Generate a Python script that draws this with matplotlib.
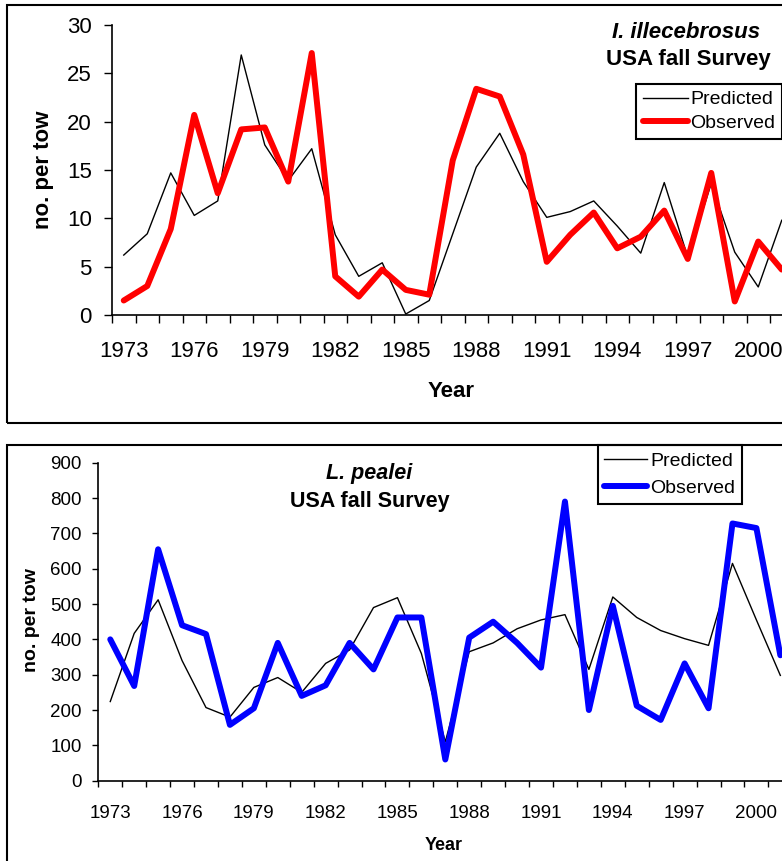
import numpy as np
import matplotlib
matplotlib.use("Agg")
import matplotlib.pyplot as plt
from matplotlib.patches import Rectangle
from matplotlib.ticker import FixedLocator, NullFormatter, FixedFormatter

plt.rcParams['font.family'] = ['Liberation Sans', 'DejaVu Sans']

years = list(range(1973, 2002))

# Illex illecebrosus, USA fall survey (no. per tow)
illex_pred = [6.2, 8.4, 14.7, 10.3, 11.8, 26.9, 17.6, 13.9, 17.2, 8.3,
              4.0, 5.4, 0.1, 1.5, 8.4, 15.3, 18.8, 13.8, 10.1, 10.7,
              11.8, 9.2, 6.4, 13.7, 6.0, 13.6, 6.5, 2.9, 9.8]
illex_obs = [1.5, 3.0, 8.9, 20.7, 12.6, 19.2, 19.4, 13.8, 27.1, 4.0,
             1.9, 4.7, 2.6, 2.1, 16.0, 23.4, 22.6, 16.6, 5.5, 8.3,
             10.6, 6.9, 8.1, 10.8, 5.8, 14.7, 1.4, 7.6, 4.7]

# Loligo pealei, USA fall survey (no. per tow)
loligo_pred = [224, 417, 512, 340, 207, 180, 264, 292, 250, 332,
               370, 490, 518, 360, 110, 365, 390, 430, 455, 470,
               315, 520, 462, 425, 402, 383, 615, 455, 298]
loligo_obs = [400, 268, 655, 440, 415, 158, 205, 390, 240, 270,
              390, 315, 462, 462, 60, 405, 450, 390, 320, 790,
              200, 495, 212, 172, 332, 205, 728, 715, 355]

W, H = 782, 861
fig = plt.figure(figsize=(W / 100, H / 100), dpi=100)


def fig_box(left, top, right, bottom):
    # pixel box -> [left, bottom, width, height] in figure fraction
    return [left / W, 1 - bottom / H, (right - left) / W, (bottom - top) / H]


def setup_axis(ax, ymax, ystep, tick_fs, xpad, ypad, ticklen):
    n = len(years)
    ax.set_xlim(-0.5, n - 0.5)
    ax.set_ylim(0, ymax)
    ax.set_yticks(np.arange(0, ymax + 1, ystep))
    ax.xaxis.set_major_locator(FixedLocator(np.arange(-0.5, n, 1.0)))
    ax.xaxis.set_major_formatter(NullFormatter())
    lab_idx = list(range(0, n, 3))
    ax.xaxis.set_minor_locator(FixedLocator(lab_idx))
    ax.xaxis.set_minor_formatter(FixedFormatter([str(years[i]) for i in lab_idx]))
    ax.tick_params(axis='x', which='major', direction='out', length=ticklen, width=1.0)
    ax.tick_params(axis='x', which='minor', length=0, pad=xpad, labelsize=tick_fs)
    ax.tick_params(axis='y', direction='out', length=ticklen, width=1.0,
                   pad=ypad, labelsize=tick_fs)
    for s in ('top', 'right'):
        ax.spines[s].set_visible(False)
    for s in ('left', 'bottom'):
        ax.spines[s].set_linewidth(1.2)
    ax.patch.set_alpha(0)


# chart area borders
fig.patches.append(Rectangle((7 / W, 1 - 422.5 / H), 1.2, (422.5 - 5) / H,
                             transform=fig.transFigure, fill=False, lw=1.5,
                             edgecolor='black'))
fig.patches.append(Rectangle((7 / W, 1 - 900 / H), 1.2, (900 - 444.5) / H,
                             transform=fig.transFigure, fill=False, lw=1.5,
                             edgecolor='black'))

# --- top panel ---
ax1 = fig.add_axes(fig_box(112, 25, 793.5, 315))
x = np.arange(len(years))
ax1.plot(x, illex_pred, color='black', lw=1.0, label='Predicted')
ax1.plot(x, illex_obs, color='#ff0000', lw=4.3, solid_capstyle='round',
         solid_joinstyle='round', label='Observed')
setup_axis(ax1, 30, 5, 16, 18.5, 9, 5.5)
ax1.legend(loc='upper left', bbox_to_anchor=(636 / W, 1 - 84 / H),
           bbox_transform=fig.transFigure, borderaxespad=0, fontsize=14,
           frameon=True, fancybox=False, edgecolor='black', framealpha=1,
           handlelength=2.3, handletextpad=0.15, labelspacing=0.3,
           borderpad=0.35).get_frame().set_linewidth(1.5)
fig.text(686 / W, 1 - 32 / H, 'I. illecebrosus', ha='center', va='center',
         fontsize=16, fontweight='bold', fontstyle='italic')
fig.text(688 / W, 1 - 60 / H, 'USA fall Survey', ha='center', va='center',
         fontsize=16, fontweight='bold')
fig.text(43 / W, 1 - 170 / H, 'no. per tow', ha='center', va='center',
         rotation=90, fontsize=16, fontweight='bold')
fig.text(451 / W, 1 - 391 / H, 'Year', ha='center', va='center',
         fontsize=16, fontweight='bold')

# --- bottom panel ---
ax2 = fig.add_axes(fig_box(98.3, 462.7, 792.3, 780.7))
ax2.plot(x, loligo_pred, color='black', lw=1.0, label='Predicted')
ax2.plot(x, loligo_obs, color='#0000ff', lw=4.3, solid_capstyle='round',
         solid_joinstyle='round', label='Observed')
setup_axis(ax2, 900, 100, 13.5, 17.5, 7.5, 4.5)
ax2.legend(loc='upper left', bbox_to_anchor=(597.5 / W, 1 - 445.5 / H),
           bbox_transform=fig.transFigure, borderaxespad=0, fontsize=14,
           frameon=True, fancybox=False, edgecolor='black', framealpha=1,
           handlelength=2.2, handletextpad=0.15, labelspacing=0.5,
           borderpad=0.35).get_frame().set_linewidth(1.5)
fig.text(369 / W, 1 - 473 / H, 'L. pealei', ha='center', va='center',
         fontsize=15.5, fontweight='bold', fontstyle='italic')
fig.text(369.5 / W, 1 - 502 / H, 'USA fall Survey', ha='center', va='center',
         fontsize=15.5, fontweight='bold')
fig.text(32 / W, 1 - 620 / H, 'no. per tow', ha='center', va='center',
         rotation=90, fontsize=14, fontweight='bold')
fig.text(444 / W, 1 - 845 / H, 'Year', ha='center', va='center',
         fontsize=13, fontweight='bold')

fig.savefig('out.png', dpi=100)
